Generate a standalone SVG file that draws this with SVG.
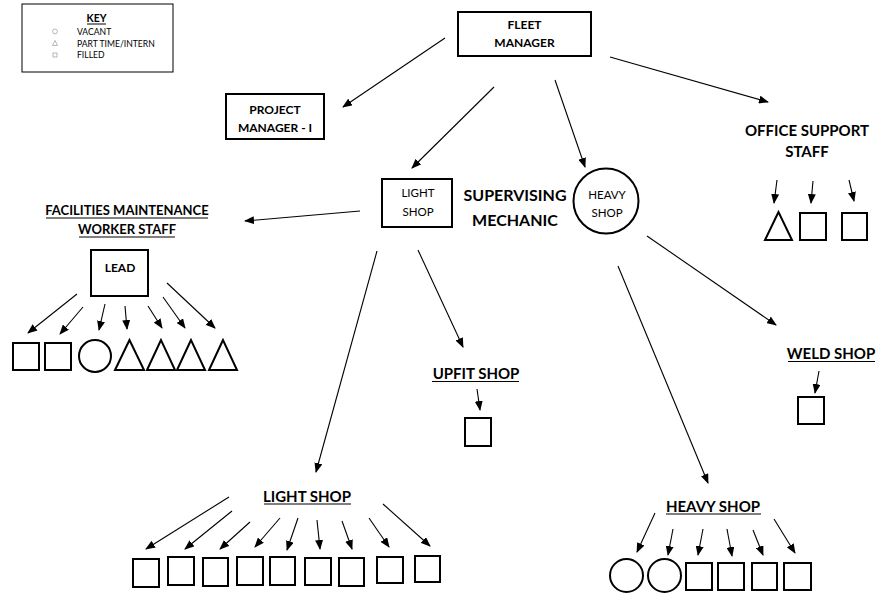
<svg xmlns="http://www.w3.org/2000/svg" width="878" height="594" viewBox="0 0 878 594">
<style>
.bg{fill:#fff}
.box{fill:#fff;stroke:#000;stroke-width:2}
.shp{fill:#fff;stroke:#000;stroke-width:2}
.con{stroke:#000;stroke-width:1.1;fill:none;marker-end:url(#ah)}
.t{font-family:Lato,"Noto Sans",sans-serif;fill:#000;text-anchor:middle}
.b{font-weight:bold}
.k{font-family:Lato,"Noto Sans",sans-serif;fill:#000;font-size:8.6px}
.ul{stroke:#000;stroke-width:1}
.ki{fill:none;stroke:#999;stroke-width:0.7}
</style>
<defs>
<marker id="ah" markerUnits="userSpaceOnUse" markerWidth="10" markerHeight="8" refX="9" refY="4" orient="auto">
<path d="M0,0 L10,4 L0,8 z" fill="#000"/>
</marker>
</defs>
<rect class="bg" x="0" y="0" width="878" height="594"/>

<g id="key">
<rect x="22" y="4" width="151" height="68" fill="#fff" stroke="#000" stroke-width="1"/>
<text class="t b" x="96.5" y="22" font-size="10.5">KEY</text>
<line class="ul" x1="87" y1="24" x2="106" y2="24"/>
<circle class="ki" cx="55" cy="31.5" r="2.4"/>
<text class="k" x="77" y="35">VACANT</text>
<path class="ki" d="M55,40.5 L52.5,45.5 L57.5,45.5 Z"/>
<text class="k" x="77" y="46.5">PART TIME/INTERN</text>
<rect class="ki" x="53" y="53" width="4" height="4"/>
<text class="k" x="77" y="58">FILLED</text>
</g>

<g id="fleet-manager">
<rect class="box" x="458" y="12" width="133" height="44"/>
<text class="t b" x="524.5" y="29" font-size="12">FLEET</text>
<text class="t b" x="524.5" y="47" font-size="12">MANAGER</text>
</g>

<g id="project-manager">
<rect class="box" x="226" y="94" width="98" height="45"/>
<text class="t b" x="275" y="114" font-size="12">PROJECT</text>
<text class="t b" x="275" y="132" font-size="12">MANAGER - I</text>
</g>

<g id="office-support">
<text class="t b" x="807" y="136" font-size="15">OFFICE SUPPORT</text>
<text class="t b" x="807" y="157" font-size="15">STAFF</text>
<path class="shp" d="M778.5,212 L765,240 L792,240 Z"/>
<rect class="shp" x="800" y="213" width="26" height="27"/>
<rect class="shp" x="842" y="213" width="25" height="27"/>
</g>

<g id="light-shop">
<rect class="box" x="382" y="179" width="70" height="48"/>
<text class="t" x="418" y="197" font-size="11.5">LIGHT</text>
<text class="t" x="418" y="216" font-size="11.5">SHOP</text>
</g>

<g id="supervising-mechanic">
<text class="t b" x="515" y="201" font-size="16">SUPERVISING</text>
<text class="t b" x="515" y="226" font-size="16">MECHANIC</text>
</g>

<g id="heavy-shop">
<circle class="box" cx="606" cy="201" r="32.5"/>
<text class="t" x="607" y="199" font-size="11.5">HEAVY</text>
<text class="t" x="607" y="217" font-size="11.5">SHOP</text>
</g>

<g id="facilities">
<text class="t b" x="127" y="215" font-size="13">FACILITIES MAINTENANCE</text>
<line class="ul" x1="46" y1="218" x2="208" y2="218"/>
<text class="t b" x="127" y="234" font-size="13">WORKER STAFF</text>
<line class="ul" x1="79" y1="237" x2="175" y2="237"/>
<rect class="box" x="91" y="250" width="57" height="46"/>
<text class="t b" x="120" y="272" font-size="12">LEAD</text>
<rect class="shp" x="13" y="343" width="26" height="27"/>
<rect class="shp" x="45" y="343" width="26" height="27"/>
<circle class="shp" cx="95" cy="356" r="16"/>
<path class="shp" d="M129.5,340 L115,370 L144,370 Z"/>
<path class="shp" d="M161,340 L147,370 L175,370 Z"/>
<path class="shp" d="M191,340 L177,370 L205,370 Z"/>
<path class="shp" d="M223,340 L209,370 L237,370 Z"/>
</g>

<g id="upfit-shop">
<text class="t b" x="476" y="379" font-size="15">UPFIT SHOP</text>
<line class="ul" x1="432" y1="381.5" x2="519" y2="381.5"/>
<rect class="shp" x="465" y="418" width="26" height="28"/>
</g>

<g id="weld-shop">
<text class="t b" x="831" y="359" font-size="15">WELD SHOP</text>
<line class="ul" x1="788" y1="361.5" x2="875" y2="361.5"/>
<rect class="shp" x="798" y="397" width="26" height="27"/>
</g>

<g id="light-shop-staff">
<text class="t b" x="307" y="502" font-size="15">LIGHT SHOP</text>
<line class="ul" x1="264" y1="504" x2="351" y2="504"/>
<rect class="shp" x="133" y="559" width="26" height="28"/>
<rect class="shp" x="168" y="557" width="26" height="28"/>
<rect class="shp" x="203" y="558" width="25" height="28"/>
<rect class="shp" x="237" y="557" width="26" height="28"/>
<rect class="shp" x="270" y="557" width="25" height="28"/>
<rect class="shp" x="305" y="558" width="26" height="27"/>
<rect class="shp" x="339" y="558" width="25" height="28"/>
<rect class="shp" x="377" y="557" width="26" height="26"/>
<rect class="shp" x="415" y="556" width="25" height="26"/>
</g>

<g id="heavy-shop-staff">
<text class="t b" x="713" y="512" font-size="15">HEAVY SHOP</text>
<line class="ul" x1="666" y1="514" x2="761" y2="514"/>
<circle class="shp" cx="626.5" cy="575.5" r="16.5"/>
<circle class="shp" cx="664.5" cy="575.5" r="16.5"/>
<rect class="shp" x="686" y="563" width="26" height="27"/>
<rect class="shp" x="718" y="563" width="26" height="27"/>
<rect class="shp" x="752" y="563" width="25" height="27"/>
<rect class="shp" x="784" y="563" width="27" height="27"/>
</g>

<g id="connectors">
<line class="con" x1="445" y1="38" x2="343" y2="107"/>
<line class="con" x1="494" y1="87" x2="412" y2="168"/>
<line class="con" x1="555" y1="80" x2="585" y2="167"/>
<line class="con" x1="610" y1="57" x2="768" y2="102"/>
<line class="con" x1="777" y1="180" x2="774" y2="203"/>
<line class="con" x1="813" y1="181" x2="811" y2="203"/>
<line class="con" x1="849" y1="180" x2="854" y2="201"/>
<line class="con" x1="360" y1="211" x2="245" y2="221"/>
<line class="con" x1="77" y1="294" x2="28" y2="333"/>
<line class="con" x1="83" y1="307" x2="60" y2="334"/>
<line class="con" x1="105" y1="304" x2="99" y2="330"/>
<line class="con" x1="125" y1="306" x2="127" y2="329"/>
<line class="con" x1="148" y1="306" x2="162" y2="328"/>
<line class="con" x1="163" y1="297" x2="185" y2="328"/>
<line class="con" x1="167" y1="283" x2="215" y2="328"/>
<line class="con" x1="418" y1="250" x2="463" y2="347"/>
<line class="con" x1="477" y1="389" x2="480" y2="410"/>
<line class="con" x1="377" y1="251" x2="316" y2="472"/>
<line class="con" x1="229" y1="497" x2="146" y2="549"/>
<line class="con" x1="232" y1="511" x2="185" y2="549"/>
<line class="con" x1="250" y1="522" x2="220" y2="549"/>
<line class="con" x1="280" y1="518" x2="255" y2="547"/>
<line class="con" x1="298" y1="518" x2="287" y2="550"/>
<line class="con" x1="317" y1="520" x2="320" y2="549"/>
<line class="con" x1="342" y1="521" x2="352" y2="549"/>
<line class="con" x1="369" y1="518" x2="389" y2="547"/>
<line class="con" x1="383" y1="504" x2="430" y2="546"/>
<line class="con" x1="618" y1="266" x2="708" y2="483"/>
<line class="con" x1="647" y1="236" x2="776" y2="325"/>
<line class="con" x1="819" y1="371" x2="815" y2="393"/>
<line class="con" x1="655" y1="513" x2="637" y2="552"/>
<line class="con" x1="673" y1="529" x2="668" y2="555"/>
<line class="con" x1="703" y1="529" x2="698" y2="555"/>
<line class="con" x1="727" y1="529" x2="732" y2="556"/>
<line class="con" x1="753" y1="530" x2="763" y2="555"/>
<line class="con" x1="774" y1="519" x2="795" y2="553"/>
</g>
</svg>
